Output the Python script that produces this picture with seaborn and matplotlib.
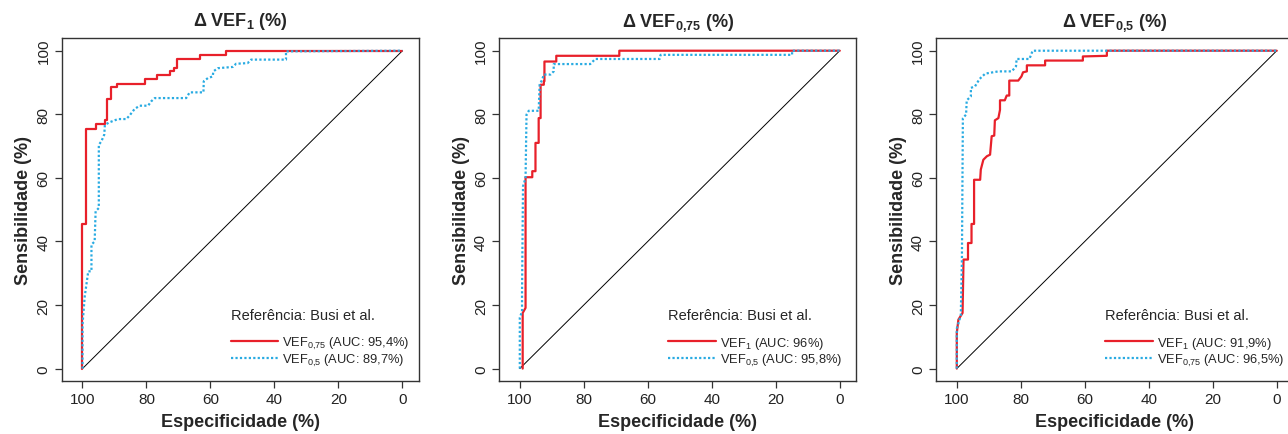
import numpy as np
import pandas as pd
import matplotlib
matplotlib.use("Agg")
import matplotlib.pyplot as plt
import seaborn as sns

sns.set_theme(style="ticks")
plt.rcParams["font.family"] = ["Liberation Sans", "DejaVu Sans"]
plt.rcParams["mathtext.fontset"] = "custom"
plt.rcParams["mathtext.rm"] = "Liberation Sans"
plt.rcParams["mathtext.bf"] = "Liberation Sans:bold"
plt.rcParams["mathtext.default"] = "regular"

# ROC curves: specificity (%) / sensitivity (%) vertices
# panel 1: delta VEF1
p1_red_spec = [100, 100, 98.75, 98.75, 95.9, 95.9, 93, 93, 92.2, 92.2, 91, 91, 89.2, 89.2,
               80.6, 80.6, 76.6, 76.6, 72.8, 72.8, 71.4, 71.4, 70.4, 70.4, 63.2, 63.2,
               55.1, 55.1, 0]
p1_red_sens = [0, 45.5, 45.5, 75.5, 75.5, 77, 77, 78.2, 78.2, 84.7, 84.7, 88.6, 88.6, 89.6,
               89.6, 91.2, 91.2, 92.5, 92.5, 93.5, 93.5, 94.5, 94.5, 97.5, 97.5, 98.5,
               98.5, 100, 100]
p1_blue_spec = [100, 100, 99.3, 98.2, 97.2, 97.2, 96.2, 95.9, 94.9, 94.9, 94.1, 93.2, 93.0,
                91.5, 88.9, 86.3, 85.3, 83.7, 82.1, 79.5, 78.5, 77.4, 67.6, 66.5, 62.2,
                62.1, 60.8, 59.3, 59.1, 57.7, 53.0, 52.0, 48.4, 47.3, 36.4, 36.4, 0]
p1_blue_sens = [0, 13.8, 22.7, 30.6, 30.6, 39, 40, 49.5, 50.5, 70.4, 71.5, 73.6, 76.7,
                77.5, 78.5, 78.5, 79.6, 81.7, 82.7, 82.7, 84.1, 85.1, 85.1, 86.9, 86.9,
                90.4, 91.4, 91.9, 93.5, 94.5, 94.9, 95.9, 96.1, 97.2, 97.2, 99.8, 100]

# panel 2: delta VEF0,75
p2_red_spec = [99.1, 99.1, 98.2, 98.2, 96.1, 96.1, 95.1, 95.1, 94.1, 94.1, 93.5, 93.5,
               92.5, 92.5, 92.3, 92.3, 88.6, 88.6, 68.9, 68.9, 0]
p2_red_sens = [0, 17.5, 19.1, 60.2, 60.2, 62.1, 62.1, 71, 71, 78.8, 78.8, 89.3, 89.3,
               90.4, 90.4, 96.6, 96.6, 98.4, 98.4, 100, 100]
p2_blue_spec = [100, 100, 99.3, 99.3, 99, 98.2, 97.9, 97.2, 94.1, 93.8, 93, 92.5, 90.4,
                89.4, 89.4, 78, 76.4, 56.3, 56, 14.9, 14.9, 0]
p2_blue_sens = [0, 16, 18, 23.8, 57.3, 60, 79.9, 81.1, 81.1, 89.3, 90.9, 92.5, 92.5,
                93.5, 95.8, 95.8, 97.4, 97.4, 98.7, 98.7, 100, 100]

# panel 3: delta VEF0,5
p3_red_spec = [100, 100, 99.5, 98.2, 97.9, 96.5, 96.5, 95.4, 95.4, 94.6, 94.6, 92.7, 92.5,
               91.7, 90.6, 89.6, 89.1, 88.3, 88.1, 87, 86.5, 86.5, 85, 84.4, 83.6, 83.6,
               80.8, 79.8, 79.3, 78.1, 78.1, 72.4, 72.4, 60.6, 60.6, 53.1, 53.1, 0]
p3_red_sens = [0, 11.2, 15.4, 17.5, 34.3, 34.3, 39.5, 39.5, 45.5, 45.5, 59.4, 59.4, 62.6,
               65.7, 66.8, 67.3, 73.1, 73.3, 78.1, 78.8, 81.4, 84.4, 84.4, 85.9, 85.9,
               90.6, 90.6, 91.9, 93.2, 93.5, 95.4, 95.4, 96.9, 96.9, 98.2, 98.4, 100, 100]
p3_blue_spec = [100, 100, 99.5, 98.75, 98.4, 98.1, 97.1, 96.9, 95.6, 95.6, 94.3, 92.9,
                91.1, 87, 82.8, 81.5, 81.3, 77.3, 76.3, 0]
p3_blue_sens = [0, 12.6, 14.2, 16.8, 34.3, 78.8, 79.9, 84.4, 85.6, 88.3, 88.8, 91.1,
                92.8, 93.5, 93.5, 95.1, 97.4, 97.4, 100, 100]

titles = [r"$\Delta$ VEF$_\mathbf{1}$ (%)",
          r"$\Delta$ VEF$_\mathbf{0{,}75}$ (%)",
          r"$\Delta$ VEF$_\mathbf{0{,}5}$ (%)"]
red_labels = [r"VEF$_{0{,}75}$ (AUC: 95,4%)", r"VEF$_1$ (AUC: 96%)", r"VEF$_1$ (AUC: 91,9%)"]
blue_labels = [r"VEF$_{0{,}5}$ (AUC: 89,7%)", r"VEF$_{0{,}5}$ (AUC: 95,8%)",
               r"VEF$_{0{,}75}$ (AUC: 96,5%)"]
ref_title = "Referência: Busi et al."

curves = [
    (p1_red_spec, p1_red_sens, p1_blue_spec, p1_blue_sens),
    (p2_red_spec, p2_red_sens, p2_blue_spec, p2_blue_sens),
    (p3_red_spec, p3_red_sens, p3_blue_spec, p3_blue_sens),
]

W, H = 1288, 435
fig = plt.figure(figsize=(W / 100, H / 100), dpi=100)
lefts = [61.7, 499, 936]
ax_w, ax_h = 357.4, 343.3
bottom = 435 - 382.3

red = "#E8202A"
blue = "#29ABE2"

for i, (rs, rv, bs, bv) in enumerate(curves):
    ax = fig.add_axes([lefts[i] / W, bottom / H, ax_w / W, ax_h / H])
    ax.plot([100, 0], [0, 100], color="black", lw=0.7)
    sns.lineplot(x=rs, y=rv, sort=False, estimator=None, color=red, lw=1.6,
                 ax=ax, label=red_labels[i])
    sns.lineplot(x=bs, y=bv, sort=False, estimator=None, color=blue, lw=1.6,
                 ax=ax, label=blue_labels[i])
    ax.lines[-1].set_linestyle((0, (1, 1)))
    ax.set_xlim(106.5, -5.2)
    ax.set_ylim(-4, 104)
    ax.set_xticks([100, 80, 60, 40, 20, 0])
    ax.set_yticks([0, 20, 40, 60, 80, 100])
    ax.tick_params(length=5, width=0.9, colors="#333333", labelcolor="#222222",
                   labelsize=11, pad=3)
    plt.setp(ax.get_yticklabels(), rotation=90, va="center")
    for sp in ax.spines.values():
        sp.set_color("#333333")
        sp.set_linewidth(1.0)
    ax.set_xlabel("Especificidade (%)", fontsize=13, fontweight="bold", labelpad=5)
    ax.set_ylabel("Sensibilidade (%)", fontsize=13, fontweight="bold", labelpad=3)
    ax.set_title(titles[i], fontsize=13, fontweight="bold", pad=9)
    leg = ax.legend(title=ref_title, loc="lower left", bbox_to_anchor=(0.44, 0.005),
                    frameon=False, fontsize=9.3, title_fontsize=10.5, alignment="left",
                    handlelength=3.7, handletextpad=0.3, labelspacing=0.1)
    leg._legend_box.sep = 9
    leg.get_lines()[1].set_linestyle((0, (1, 1)))

fig.savefig("out.png", dpi=100)
